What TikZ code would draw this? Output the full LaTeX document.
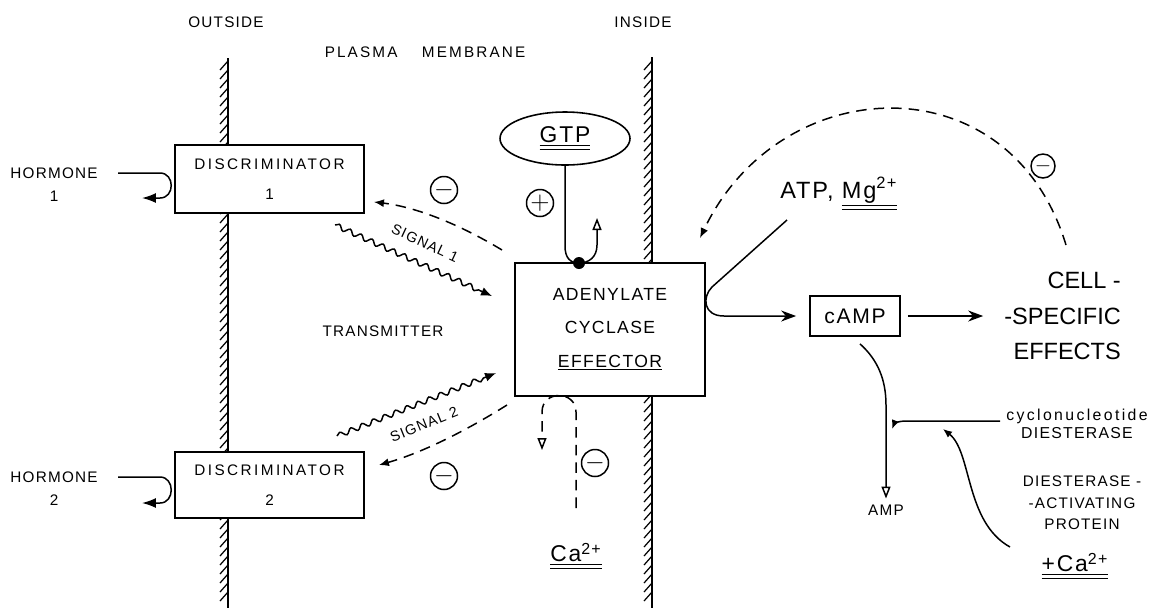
\documentclass[tikz,border=0pt]{standalone}
\usepackage{fontspec}
\setmainfont{Liberation Sans}[LetterSpace=8]
\usetikzlibrary{positioning,arrows.meta,calc,shapes.geometric,decorations.pathmorphing}

\newcommand{\dul}[1]{$\underline{\underline{\hbox{#1}}}$}

\tikzset{
  lab/.style={font=\fontsize{8.7}{12}\selectfont,align=center},
  mid/.style={font=\fontsize{13}{15}\selectfont,align=center},
  big/.style={font=\fontsize{13.4}{20.4}\selectfont\addfontfeature{LetterSpace=0}},
  box/.style={draw,line width=1.1pt,fill=white,align=center},
  memb/.style={line width=1.5pt},
  hatch/.style={line width=0.7pt},
  conn/.style={line width=0.85pt},
  dsh/.style={conn,dash pattern=on 6pt off 4pt},
  sign/.style={circle,draw,line width=0.85pt,inner sep=0pt,minimum size=0.54cm,font=\fontsize{15}{15}\selectfont},
  wave/.style={conn,decorate,decoration={snake,segment length=0.24cm,amplitude=0.05cm,post length=2.5mm}},
}

\begin{document}
\begin{tikzpicture}[x=0.02cm,y=-0.02cm]
\useasboundingbox (0,0) rectangle (1153,610);
% membranes with hatching
\draw[memb] (228,58) -- (228,608);
\draw[memb] (652,57) -- (652,608);
\foreach \y in {61,70,...,598} {
  \draw[hatch] (228,\y) -- ++(-8,9);
  \draw[hatch] (652,\y) -- ++(-8,9);
}
% headings
\node[lab] (outs) at (226,22) {OUTSIDE};
\node[lab] (ins) at (643,22) {INSIDE};
\node[lab] (pm) at (425,52) {\addfontfeature{LetterSpace=14}PLASMA\hspace{1.6em}MEMBRANE};
\node[lab] (trans) at (383,331) {TRANSMITTER};

% discriminators and hormones
\node[box,font=\fontsize{8.7}{17}\selectfont\addfontfeature{LetterSpace=16},minimum width=3.78cm,minimum height=1.36cm] (disc1) at (269.5,179) {DISCRIMINATOR\\1};
\node[box,font=\fontsize{8.7}{17}\selectfont\addfontfeature{LetterSpace=16},minimum width=3.78cm,minimum height=1.32cm] (disc2) at (269.5,485) {DISCRIMINATOR\\2};
\node[lab,font=\fontsize{8.7}{13}\selectfont] (hor1) at (54,185) {HORMONE\\1};
\node[lab,font=\fontsize{8.7}{13}\selectfont] (hor2) at (54,489) {HORMONE\\2};
\coordinate (h1a) at (118,173);
\coordinate (h2a) at (118,477);
\draw[conn,-{Latex[length=2.8mm,width=2mm]}] (h1a) -- ++(42,0) .. controls +(15,0) and +(15,0) .. ++(0,25) -- ++(-18,0);
\draw[conn,-{Latex[length=2.8mm,width=2mm]}] (h2a) -- ++(42,0) .. controls +(15,0) and +(15,0) .. ++(0,26) -- ++(-18,0);

% effector
\node[box,font=\fontsize{10}{19}\selectfont,minimum width=3.8cm,minimum height=2.66cm] (ac) at (610,329.5) {ADENYLATE\\CYCLASE\\\underline{EFFECTOR}};
\node[draw,ellipse,line width=0.9pt,minimum width=2.6cm,minimum height=1.06cm,font=\fontsize{13}{14}\selectfont] (gtp) at (565,138.5) {\dul{GTP}};
\node[circle,fill,inner sep=0pt,minimum size=0.24cm] (dot) at (579,263) {};
\node[sign] (p1) at (540,203) {$+$};
\draw[conn,-{Triangle[open,length=2.4mm,width=1.8mm]}] (gtp.south) -- ++(0,80) .. controls +(0,12) and +(-9,0) .. (dot.center) .. controls +(10,0) and +(0,12) .. ++(18,-18) -- ++(0,-27);

% signals
\coordinate (s1a) at (335,225);
\coordinate (s1e) at ($(ac.north west)+(-22,34)$);
\coordinate (s2a) at (337,436);
\coordinate (s2e) at ($(ac.north west)+(-18,111)$);
\draw[wave,-{Latex[length=2.2mm,width=1.8mm]}] (s1a) -- (s1e);
\draw[wave,-{Latex[length=2.2mm,width=1.8mm]}] (s2a) -- (s2e);
\node[lab,font=\fontsize{8.2}{10}\selectfont,rotate=-25] (sig1) at (425,243) {SIGNAL 1};
\node[lab,font=\fontsize{8.2}{10}\selectfont,rotate=22] (sig2) at (424,424) {SIGNAL 2};

% feedback to discriminators
\coordinate (d1s) at (502,250);
\coordinate (d1e) at ($(disc1.south east)+(9,-12)$);
\coordinate (d2s) at (507,405);
\coordinate (d2e) at ($(disc2.north east)+(14,14)$);
\draw[dsh,-{Latex[length=2mm,width=1.6mm]}] (d1s) .. controls (459,224) and (416,207) .. (d1e);
\draw[dsh,-{Latex[length=2mm,width=1.6mm]}] (d2s) .. controls (464,432) and (421,453) .. (d2e);
\node[sign] (m1) at (444,190) {$-$};
\node[sign] (m2) at (444,476) {$-$};

% calcium inhibition
\node[mid] (ca) at (576,556) {\dul{Ca\textsuperscript{2+}}};
\coordinate (cafoot) at (576,508);
\draw[dsh,-{Triangle[open,length=2.4mm,width=1.8mm]}] (cafoot) -- ++(0,-96) .. controls +(0,-22) and +(0,-22) .. ++(-34,0) -- ++(0,38);
\node[sign] (m3) at (595,463) {$-$};

% cAMP formation
\node[font=\fontsize{13.4}{16}\selectfont,anchor=base west,inner sep=0pt] (atp) at (780,198) {ATP,\hspace{0.35em}\dul{Mg\textsuperscript{2+}}};
\node[draw,line width=1pt,font=\fontsize{12}{14}\selectfont,minimum width=1.8cm,minimum height=0.8cm] (camp) at (855,316) {cAMP};
\coordinate (atpend) at (787,220);
\draw[conn,-{Stealth[length=3mm,width=2.2mm]},shorten >=0.26cm] (atpend) -- (712,287) .. controls (702,297) and (703,316) .. (724,316) -- (camp.west);
\node[big,align=right,anchor=east] (eff) at (1127,316) {CELL -\\-SPECIFIC\\EFFECTS};
\draw[conn,-{Stealth[length=3mm,width=2.2mm]},shorten <=0.14cm,shorten >=0.3cm] (camp.east) -- (eff.west);

% product feedback
\coordinate (arcs) at (1066,245);
\coordinate (arce) at (700,238);
\draw[dsh,-{Latex[length=2mm,width=1.6mm]}] (arcs) .. controls (1010,60) and (780,70) .. (arce);
\node[sign,minimum size=0.48cm,font=\fontsize{13}{13}\selectfont] (m4) at (1043,166) {$-$};

% breakdown
\node[lab] (amp) at (886,510) {AMP};
\draw[conn,-{Triangle[open,length=2.4mm,width=1.8mm]}] ($(camp.south)+(5,7)$) .. controls (878,360) and (886,380) .. (886,405) -- (amp.north);
\node[lab,font=\fontsize{9}{10.5}\selectfont] (dies) at (1077,424) {\addfontfeature{LetterSpace=15}cyclonucleotide\\DIESTERASE};
\coordinate (djoin) at (892,429);
\draw[conn,-{Latex[length=1.8mm,width=1.5mm]}] (dies.west) ++(0,-3) -- (906,421) .. controls (898,421) and (894,424) .. (djoin);
\node[lab,font=\fontsize{8.7}{12.2}\selectfont] (prot) at (1082,503) {DIESTERASE -\\-ACTIVATING\\PROTEIN};
\node[mid] (ca2) at (1075,566) {\dul{+Ca\textsuperscript{2+}}};
\coordinate (ps) at (1010,547);
\coordinate (pe) at (943,429);
\draw[conn,-{Latex[length=1.8mm,width=1.5mm]}] (ps) .. controls (965,522) and (972,452) .. (pe);
\end{tikzpicture}
\end{document}
